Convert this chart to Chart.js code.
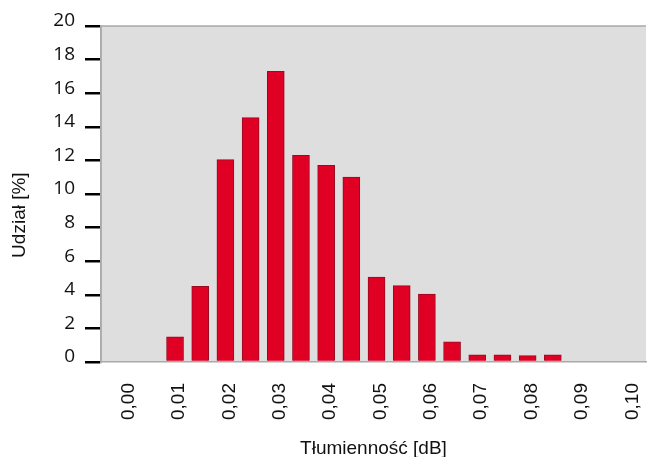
<!DOCTYPE html>
<html>
<head>
<meta charset="utf-8">
<script src="https://cdn.jsdelivr.net/npm/chart.js@4.4.0/dist/chart.umd.min.js"></script>
<style>
  html, body { margin: 0; padding: 0; background: #fff; }
  #wrap { width: 647px; height: 457px; }
</style>
</head>
<body>
<div id="wrap"><canvas id="chart"></canvas></div>
<script>
"use strict"

// attenuation bins (dB) and share of each bin (%)
const binCentres = [0.010, 0.015, 0.020, 0.025, 0.030, 0.035, 0.040, 0.045,
                    0.050, 0.055, 0.060, 0.065, 0.070, 0.075, 0.080, 0.085];
const shares = [1.5, 4.5, 12.05, 14.55, 17.3, 12.3, 11.7, 11.0,
                5.05, 4.55, 4.05, 1.2, 0.43, 0.43, 0.38, 0.43];

const xTickValues = [0, 0.01, 0.02, 0.03, 0.04, 0.05, 0.06, 0.07, 0.08, 0.09, 0.10];
const xTickLabels = ['0,00', '0,01', '0,02', '0,03', '0,04', '0,05', '0,06', '0,07', '0,08', '0,09', '0,10'];

const BAR_RED = '#e00024';
const BAR_EDGE = '#9a0a22';
const PLOT_BG = '#dedede';
const PLOT_EDGE = '#a9a9a9';

// grey plot area behind the bars
const plotBg = {
    id: 'plotBg',
    beforeDraw(chart) {
        const { ctx, chartArea: a } = chart;
        ctx.save();
        ctx.fillStyle = PLOT_BG;
        ctx.fillRect(a.left, a.top, a.right - a.left, a.bottom - a.top);
        ctx.strokeStyle = PLOT_EDGE;
        ctx.lineWidth = 1.5;
        ctx.beginPath();
        ctx.moveTo(a.left, a.bottom);
        ctx.lineTo(a.left, a.top);
        ctx.lineTo(a.right, a.top);
        ctx.stroke();
        ctx.restore();
    }
};

const points = binCentres.map((x, i) => ({ x, y: shares[i] }));

new Chart(document.getElementById('chart'), {
    type: 'bar',
    data: {
        datasets: [{
            data: points,
            backgroundColor: BAR_RED,
            borderColor: BAR_EDGE,
            borderWidth: 1,
            barThickness: 17,
        }]
    },
    options: {
        responsive: true,
        maintainAspectRatio: false,
        animation: false,
        layout: { padding: { top: 26, right: 1, left: 0, bottom: 0 } },
        plugins: {
            legend: { display: false },
            tooltip: { enabled: false }
        },
        scales: {
            x: {
                type: 'linear',
                offset: false,
                min: -0.0047,
                max: 0.1035,
                afterBuildTicks: (scale) => {
                    scale.ticks = xTickValues.map(v => ({ value: v }));
                },
                afterFit: (scale) => {
                    scale.height = 95;
                    scale.paddingLeft = 0;
                    scale.paddingRight = 0;
                },
                grid: { display: false, offset: false },
                border: { display: true, color: PLOT_EDGE, width: 1.5 },
                ticks: {
                    autoSkip: false,
                    maxRotation: 90,
                    minRotation: 90,
                    padding: 13,
                    labelOffset: 4,
                    color: '#111',
                    font: { family: 'Liberation Sans', size: 19 },
                    callback: (v, i) => xTickLabels[i]
                },
                title: {
                    display: true,
                    text: 'Tłumienność [dB]',
                    color: '#111',
                    font: { family: 'Liberation Sans', size: 19 },
                    padding: { top: 0, bottom: -3 }
                }
            },
            y: {
                min: 0,
                max: 20,
                afterFit: (scale) => { scale.width = 101; },
                grid: {
                    drawOnChartArea: false,
                    color: '#000',
                    lineWidth: 2.5,
                    tickLength: 16
                },
                border: { display: true, color: PLOT_EDGE, width: 1.5 },
                ticks: {
                    stepSize: 2,
                    padding: 10,
                    labelOffset: -5,
                    color: '#111',
                    font: { family: 'Open Sans', size: 19 }
                },
                title: {
                    display: true,
                    text: 'Udział [%]        ',
                    color: '#111',
                    font: { family: 'Liberation Sans', size: 19 },
                    padding: { top: 8, bottom: 0 }
                }
            }
        }
    },
    plugins: [plotBg]
});
</script>
</body>
</html>
